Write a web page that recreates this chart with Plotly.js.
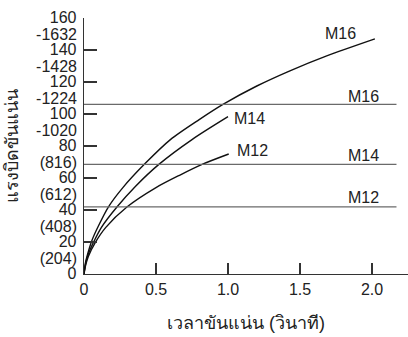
<!DOCTYPE html>
<html>
<head>
<meta charset="utf-8">
<script src="https://cdn.plot.ly/plotly-3.0.1.min.js"></script>
<style>html,body{margin:0;padding:0;background:#fff;}#chart{width:408px;height:337px;}</style>
</head>
<body>
<div id="chart"></div>
<script>
// Curves: torque vs tightening time
const m16X = [0, 0.01, 0.03, 0.055, 0.10, 0.17, 0.27, 0.424, 0.60, 0.80, 0.965, 1.20, 1.43, 1.69, 2.02];
const m16Y = [0, 7, 14, 21, 30, 42, 54, 69, 84, 96.5, 106, 117.5, 127, 136.5, 147];
const m14X = [0, 0.01, 0.03, 0.065, 0.12, 0.23, 0.36, 0.52, 0.75, 1.0];
const m14Y = [0, 6, 12.5, 19.6, 29, 42, 55, 68.5, 84, 98.3];
const m12X = [0, 0.01, 0.03, 0.078, 0.15, 0.30, 0.50, 0.67, 0.82, 1.005];
const m12Y = [0, 5, 11, 19.6, 29, 42, 54, 62, 68.5, 75];

// Reference levels (horizontal lines)
const refNames = ["M16", "M14", "M12"];
const refLevels = [106, 68.5, 42];
const refXEnd = 2.17;

// Label positions
const curveNames = ["M16", "M14", "M12"];
const curveLabelX = [1.78, 1.15, 1.17];
const curveLabelY = [150.6, 97.5, 77];
const refLabelX = [1.94, 1.94, 1.94];
const refLabelY = [111, 74, 48];

// Axis ticks (two label rows per tick)
const yTickVals = [0, 20, 40, 60, 80, 100, 120, 140, 160];
const yTickTop = ["0", "20", "40", "60", "80", "100", "120", "140", "160"];
const yTickBottom = ["", "(204)", "(408)", "(612)", "(816)", "-1020", "-1224", "-1428", "-1632"];
const xTickVals = [0, 0.5, 1.0, 1.5, 2.0];
const xTickText = ["0", "0.5", "1.0", "1.5", "2.0"];

const FONT = "Liberation Sans, Arial, sans-serif";
const TXT = "#222";

const traces = [];
[[m16X, m16Y], [m14X, m14Y], [m12X, m12Y]].forEach(([x, y]) => {
  traces.push({x: x, y: y, mode: "lines", line: {color: "#111", width: 1.4, shape: "spline", smoothing: 0.8}, hoverinfo: "skip"});
});
refLevels.forEach(v => {
  traces.push({x: [0, refXEnd], y: [v, v], yaxis: "y2", mode: "lines", line: {color: "#6a6a6a", width: 1.3}, hoverinfo: "skip"});
});

const annotations = [];
curveNames.forEach((n, i) => annotations.push({x: curveLabelX[i], y: curveLabelY[i], text: n, showarrow: false, xref: "x", yref: "y", font: {family: FONT, size: 16, color: TXT}}));
refNames.forEach((n, i) => annotations.push({x: refLabelX[i], y: refLabelY[i], text: n, showarrow: false, xref: "x", yref: "y", font: {family: FONT, size: 16, color: TXT}}));

const layout = {
  width: 408, height: 337,
  margin: {l: 84, r: 0, t: 18, b: 63},
  paper_bgcolor: "#fff", plot_bgcolor: "#fff",
  showlegend: false,
  font: {family: FONT, size: 16, color: TXT},
  xaxis: {
    range: [0, 2.25], tickvals: xTickVals, ticktext: xTickText,
    ticks: "inside", ticklen: 11, tickcolor: "#333", tickwidth: 1.3,
    showline: true, linecolor: "#333", linewidth: 1.3,
    showgrid: false, zeroline: false,
    tickfont: {family: FONT, size: 16, color: TXT},
    title: {text: "เวลาขันแน่น (วินาที)", font: {family: FONT, size: 18, color: TXT}, standoff: 20}
  },
  yaxis: {
    range: [0, 160], tickvals: yTickVals, ticktext: yTickTop,
    ticks: "inside", ticklen: 13, tickcolor: "#333", tickwidth: 1.3,
    showline: true, linecolor: "#333", linewidth: 1.3,
    showgrid: false, zeroline: false,
    ticklabelshift: -1, ticklabelstandoff: 3, ticklabeloverflow: "allow",
    tickfont: {family: FONT, size: 16, color: TXT},
    title: {text: "แรงบิดขันแน่น", font: {family: FONT, size: 18, color: TXT}, standoff: 26}
  },
  yaxis2: {
    range: [0, 160], tickvals: yTickVals, ticktext: yTickBottom,
    overlaying: "y", side: "left", anchor: "x",
    ticks: "", showline: false, showgrid: false, zeroline: false,
    ticklabelshift: 16, ticklabelstandoff: 6, ticklabeloverflow: "allow",
    tickfont: {family: FONT, size: 16, color: TXT}
  },
  annotations: annotations
};

Plotly.newPlot("chart", traces, layout, {displayModeBar: false, staticPlot: true});
</script>
</body>
</html>
